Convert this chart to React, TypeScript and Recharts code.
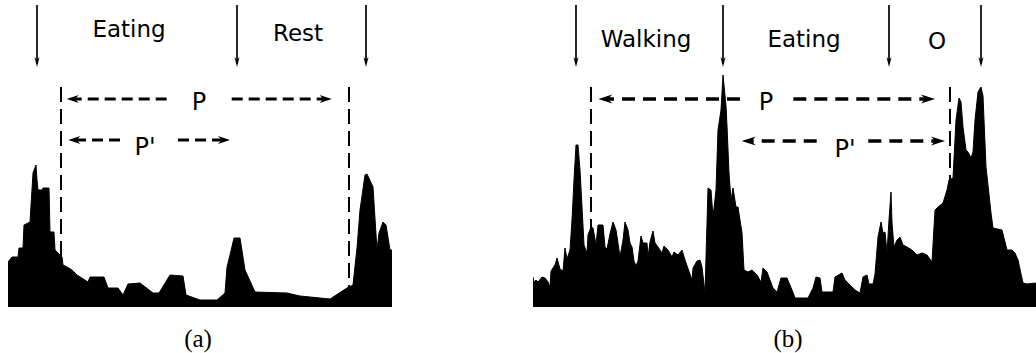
import { Area, AreaChart, ReferenceDot, ReferenceLine, XAxis, YAxis } from 'recharts'

// activity envelope for the eating/rest recording: [t, level]
const envelopeA: [number, number][] = [
  [0, 45], [4, 50], [10, 50], [11, 59], [15, 59], [16, 82], [22, 85], [25, 134], [28, 142], [29, 127],
  [30, 117], [34, 117], [35, 119], [41, 119], [42, 75], [46, 75], [47, 57], [49, 55], [54, 50], [55, 42],
  [59, 40], [64, 37], [69, 32], [80, 25], [82, 30], [96, 30], [100, 19], [110, 19], [115, 12], [120, 23],
  [132, 24], [145, 14], [151, 14], [162, 32], [175, 31], [178, 12], [192, 7], [209, 7], [217, 14], [219, 40],
  [222, 52], [226, 69], [232, 69], [237, 37], [247, 15], [279, 14], [292, 11], [322, 8], [339, 19], [345, 22],
  [349, 59], [352, 97], [357, 132], [359, 133], [365, 120], [369, 57], [371, 74], [375, 85], [378, 82], [382, 57],
  [384, 57],
]

// activity envelope for the walking/eating/other recording
const envelopeB: [number, number][] = [
  [0, 30], [1, 25], [3, 27], [5, 25], [9, 30], [12, 29], [15, 25], [17, 20], [18, 36], [22, 42],
  [24, 49], [27, 38], [30, 36], [32, 59], [34, 48], [37, 57], [39, 87], [41, 127], [43, 162], [45, 162],
  [47, 137], [49, 100], [51, 62], [54, 54], [55, 72], [58, 80], [60, 79], [63, 62], [65, 82], [70, 82],
  [72, 60], [74, 58], [77, 73], [80, 85], [83, 77], [85, 64], [87, 50], [90, 67], [92, 85], [95, 77],
  [97, 64], [99, 60], [101, 46], [103, 41], [105, 46], [108, 71], [110, 64], [114, 64], [115, 50], [117, 65],
  [120, 76], [122, 64], [125, 60], [129, 54], [131, 61], [135, 57], [139, 50], [141, 55], [145, 52], [149, 57],
  [152, 47], [159, 27], [160, 39], [164, 46], [167, 47], [169, 40], [172, 14], [175, 119], [178, 117], [180, 90],
  [183, 117], [185, 177], [188, 197], [190, 232], [193, 201], [194, 181], [196, 134], [198, 107], [200, 119], [203, 100],
  [205, 100], [209, 74], [211, 37], [215, 35], [219, 37], [224, 32], [228, 25], [230, 39], [234, 35], [237, 27],
  [240, 19], [244, 15], [248, 29], [254, 29], [259, 17], [262, 9], [275, 9], [280, 19], [283, 30], [287, 29],
  [289, 15], [300, 15], [302, 30], [309, 34], [312, 27], [315, 24], [322, 17], [327, 14], [330, 30], [334, 32],
  [336, 23], [340, 23], [342, 33], [345, 70], [348, 85], [350, 74], [352, 75], [354, 54], [356, 87], [358, 115],
  [359, 84], [361, 60], [364, 67], [367, 70], [370, 62], [374, 60], [379, 57], [384, 52], [389, 54], [394, 52],
  [399, 45], [402, 97], [405, 100], [410, 104], [414, 117], [416, 127], [420, 129], [423, 187], [426, 209], [428, 205],
  [430, 180], [433, 157], [435, 155], [438, 149], [440, 155], [442, 187], [445, 215], [448, 220], [450, 211], [453, 140],
  [458, 94], [460, 79], [469, 77], [474, 57], [479, 57], [482, 54], [485, 47], [490, 24], [494, 23], [503, 24],
]

// segment boundaries (down arrows) and activity names
const boundariesA = [29, 229, 358]
const boundariesB = [43, 190, 356, 448]
const phasesA = ['Eating', 'Rest']
const phasesB = ['Walking', 'Eating', 'O']

// detected period start/end
const periodA = [53, 341]
const periodB = [58, 417]

type Span = { name: string; v: number; from: number; gapFrom: number; gapTo: number; to: number; labelT: number; labelV: number }

type PanelProps = {
  caption: string
  captionShift: number
  left: number
  width: number
  envelope: [number, number][]
  boundaries: number[]
  phases: { name: string; t: number; v: number }[]
  period: number[]
  spans: Span[]
  dash: string
  dashWidth: number
  head: [number, number]
}

const FONT = '"DejaVu Sans", Verdana, sans-serif'
const TOP = 307
const BOTTOM = -46

// line with a filled stealth head drawn at one end; dashes run from the
// open end toward the head so the label gap gets whole dashes
function arrowShape(at: 'start' | 'end', len: number, wid: number, width: number, dash?: string) {
  return (p: any) => {
    const { x1, y1, x2, y2 } = p
    const [tx, ty, ox, oy] = at === 'end' ? [x2, y2, x1, y1] : [x1, y1, x2, y2]
    const d = Math.hypot(tx - ox, ty - oy) || 1
    const ux = (tx - ox) / d
    const uy = (ty - oy) / d
    const nx = -uy
    const ny = ux
    const bx = tx - ux * len
    const by = ty - uy * len
    const mx = tx - ux * len * 0.7
    const my = ty - uy * len * 0.7
    const pts = [
      [tx, ty],
      [bx + (nx * wid) / 2, by + (ny * wid) / 2],
      [mx, my],
      [bx - (nx * wid) / 2, by - (ny * wid) / 2],
    ]
      .map((q) => q.join(','))
      .join(' ')
    return (
      <g>
        <line x1={ox} y1={oy} x2={mx} y2={my} stroke="#000" strokeWidth={width} strokeDasharray={dash} />
        <polygon points={pts} fill="#000" />
      </g>
    )
  }
}

function textShape(text: string, size: number, family = FONT) {
  return (p: any) => (
    <text x={p.cx} y={p.cy} textAnchor="middle" fontSize={size} fontFamily={family} fill="#000">
      {text}
    </text>
  )
}

function Panel(props: PanelProps) {
  const { caption, captionShift, left, width, envelope, boundaries, phases, period, spans, dash, dashWidth, head } = props
  const data = envelope.map(([t, v]) => ({ t, v }))
  return (
    <div style={{ position: 'absolute', left, top: 0 }}>
      <AreaChart width={width} height={TOP - BOTTOM} data={data} margin={{ top: 0, right: 0, bottom: 0, left: 0 }}>
        <XAxis type="number" dataKey="t" domain={[0, width]} hide allowDataOverflow />
        <YAxis type="number" domain={[BOTTOM, TOP]} hide allowDataOverflow />
        <Area
          type="linear"
          dataKey="v"
          baseValue={0}
          fill="#000"
          fillOpacity={1}
          stroke="#000"
          strokeWidth={1}
          dot={false}
          activeDot={false}
          isAnimationActive={false}
        />
        {period.map((t) => (
          <ReferenceLine
            key={`p${t}`}
            segment={[{ x: t, y: 220 }, { x: t, y: 0 }]}
            stroke="#000"
            strokeWidth={2}
            strokeDasharray="15 7"
          />
        ))}
        {boundaries.map((t) => (
          <ReferenceLine
            key={`b${t}`}
            segment={[{ x: t, y: 302 }, { x: t, y: 240 }]}
            shape={arrowShape('end', 10, 5, 1.7)}
          />
        ))}
        {spans.map((s) => [
          <ReferenceLine
            key={`${s.name}l`}
            segment={[{ x: s.from, y: s.v }, { x: s.gapFrom, y: s.v }]}
            shape={arrowShape('start', head[0], head[1], dashWidth, dash)}
          />,
          <ReferenceLine
            key={`${s.name}r`}
            segment={[{ x: s.gapTo, y: s.v }, { x: s.to, y: s.v }]}
            shape={arrowShape('end', head[0], head[1], dashWidth, dash)}
          />,
          <ReferenceDot key={`${s.name}t`} x={s.labelT} y={s.labelV} shape={textShape(s.name, 24)} />,
        ])}
        {phases.map((ph) => (
          <ReferenceDot key={ph.name} x={ph.t} y={ph.v} shape={textShape(ph.name, 23)} />
        ))}
        <ReferenceDot
          x={width / 2 + captionShift}
          y={-40}
          shape={textShape(caption, 25, '"Liberation Serif", "Times New Roman", serif')}
        />
      </AreaChart>
    </div>
  )
}

export default function App() {
  return (
    <div style={{ position: 'absolute', left: 0, top: 0, width: 1036, height: 353, background: '#fff' }}>
      <Panel
        caption="(a)"
        captionShift={-2}
        left={8}
        width={384}
        envelope={envelopeA}
        boundaries={boundariesA}
        phases={[
          { name: phasesA[0], t: 121, v: 270 },
          { name: phasesA[1], t: 290, v: 266 },
        ]}
        period={periodA}
        spans={[
          { name: 'P', v: 208, from: 58.7, gapFrom: 158.7, gapTo: 223.7, to: 323.7, labelT: 191, labelV: 197 },
          { name: "P'", v: 167, from: 60.3, gapFrom: 112, gapTo: 170, to: 222, labelT: 137, labelV: 152 },
        ]}
        dash="11 6"
        dashWidth={3}
        head={[12, 8]}
      />
      <Panel
        caption="(b)"
        captionShift={3.5}
        left={533}
        width={503}
        envelope={envelopeB}
        boundaries={boundariesB}
        phases={[
          { name: phasesB[0], t: 113, v: 260.5 },
          { name: phasesB[1], t: 271, v: 260.5 },
          { name: phasesB[2], t: 404, v: 258 },
        ]}
        period={periodB}
        spans={[
          { name: 'P', v: 208, from: 65.3, gapFrom: 207, gapTo: 260.3, to: 402, labelT: 233, labelV: 197 },
          { name: "P'", v: 166, from: 208.7, gapFrom: 283.7, gapTo: 335.3, to: 412, labelT: 312, labelV: 150 },
        ]}
        dash="13 8"
        dashWidth={3.5}
        head={[14, 9]}
      />
    </div>
  )
}
